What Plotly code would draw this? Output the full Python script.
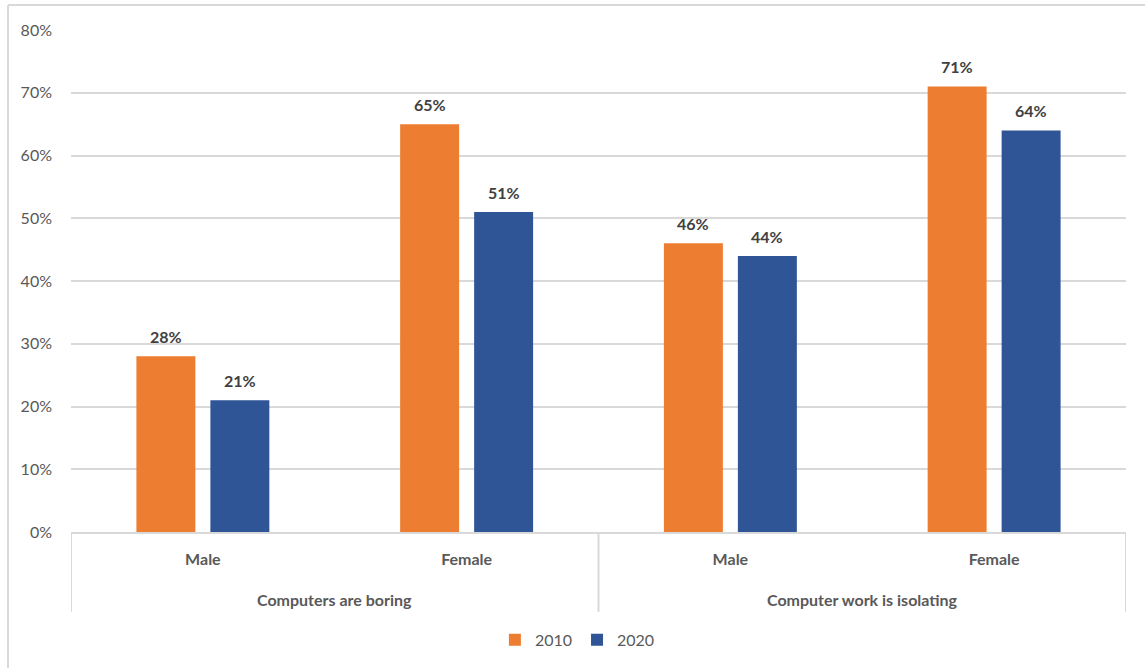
import plotly.graph_objects as go

# Survey statements and respondent groups
statements = ["Computers are boring", "Computer work is isolating"]
genders = ["Male", "Female", "Male", "Female"]
positions = [0, 1, 2, 3]

# Share of respondents agreeing, by survey year
agree_2010 = [0.28, 0.65, 0.46, 0.71]
agree_2020 = [0.21, 0.51, 0.44, 0.64]

y_ticks = [0, 0.1, 0.2, 0.3, 0.4, 0.5, 0.6, 0.7, 0.8]

FONT = "Lato, 'Open Sans', sans-serif"
ORANGE = "#ED7D31"
BLUE = "#2F5597"
GRID = "#D9D9D9"
BARGAP = 0.439
GROUPGAP = 0.203

fig = go.Figure()
annotations = []
series = [("2010", agree_2010, ORANGE, -1), ("2020", agree_2020, BLUE, 1)]
for name, vals, color, side in series:
    fig.add_trace(go.Bar(
        name=name,
        x=positions,
        y=vals,
        marker=dict(color=color, line=dict(width=0)),
    ))
    # value labels above each bar
    for i, v in zip(positions, vals):
        annotations.append(dict(
            x=i + side * (1 - BARGAP) / 4, y=v, xref="x", yref="y",
            text=f"{v:.0%}", showarrow=False, yanchor="bottom", yshift=8,
            font=dict(family=FONT, size=16, color="#404040", weight="bold"),
        ))

# statement labels centred under each pair of gender categories
for k, s in enumerate(statements):
    annotations.append(dict(
        x=(positions[2 * k] + positions[2 * k + 1]) / 2, y=-0.135,
        xref="x", yref="paper", text=s, showarrow=False,
        yanchor="middle",
        font=dict(family=FONT, size=16, color="#595959", weight="bold"),
    ))

# divider lines between the statement groups
dividers = []
for b in [-0.5, 1.5, 3.5]:
    dividers.append(dict(type="line", xref="x", yref="paper",
                         x0=b, x1=b, y0=0, y1=-0.159,
                         line=dict(color=GRID, width=2)))

fig.update_layout(
    width=1145, height=668,
    margin=dict(l=71, r=19, t=30, b=136, autoexpand=False),
    paper_bgcolor="white", plot_bgcolor="white",
    barmode="group", bargap=BARGAP, bargroupgap=GROUPGAP,
    font=dict(family=FONT, color="#595959"),
    showlegend=True,
    legend=dict(orientation="h", x=0.48, xanchor="center", y=-0.181, yanchor="top",
                font=dict(family=FONT, size=16, color="#595959"),
                itemwidth=30, traceorder="normal"),
    xaxis=dict(
        range=[-0.5, 3.5], tickvals=positions, ticktext=genders,
        automargin=False, zeroline=False,
        showline=True, linecolor=GRID, linewidth=2,
        ticks="", showgrid=False, ticklabelstandoff=12,
        tickfont=dict(family=FONT, size=16, color="#595959", weight="bold"),
    ),
    yaxis=dict(
        range=[0, 0.8], tickvals=y_ticks, tickformat=".0%",
        showgrid=True, gridcolor=GRID, gridwidth=1.5, automargin=False,
        zeroline=False, showline=False, ticks="",
        tickfont=dict(family=FONT, size=16, color="#595959"),
        ticklabelstandoff=18,
    ),
    annotations=annotations,
    shapes=dividers + [
        # outer chart frame (left and top edges)
        dict(type="line", xref="paper", yref="paper",
             x0=-0.0597, x1=-0.0597, y0=1.0498, y1=-0.3,
             line=dict(color=GRID, width=2)),
        dict(type="line", xref="paper", yref="paper",
             x0=-0.0597, x1=1.03, y0=1.0498, y1=1.0498,
             line=dict(color=GRID, width=2)),
    ],
)

fig.write_html("out.html")
